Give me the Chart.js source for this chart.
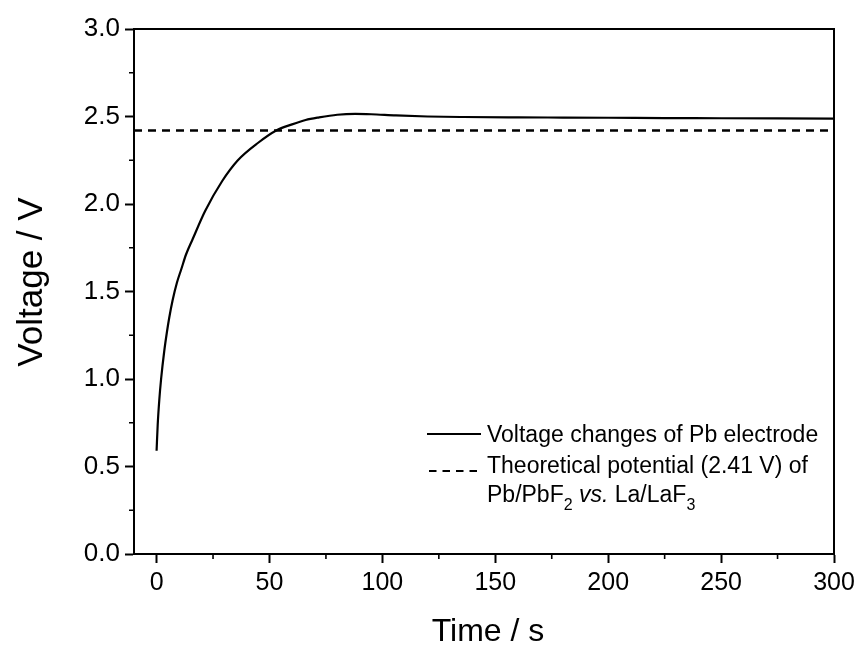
<!DOCTYPE html>
<html>
<head>
<meta charset="utf-8">
<script src="https://cdn.jsdelivr.net/npm/chart.js@4/dist/chart.umd.min.js"></script>
<style>
  html, body { margin: 0; padding: 0; background: #ffffff; }
  #wrap { width: 863px; height: 648px; position: relative; }
</style>
</head>
<body>
<div id="wrap"><canvas id="c" width="863" height="648"></canvas></div>
<script>
// ---- data ----
const timeS = [0, 0.5, 1.2, 2, 3.4, 4.6, 5.6, 7.1, 9, 11, 13, 16, 21.5, 29, 36, 45, 53, 60, 66, 72, 80, 88, 95, 106, 120, 136, 160, 180, 200, 225, 250, 275, 300];
const voltageV = [0.59, 0.74, 0.88, 1.0, 1.16, 1.27, 1.35, 1.45, 1.55, 1.63, 1.71, 1.80, 1.96, 2.13, 2.25, 2.35, 2.42, 2.455, 2.48, 2.495, 2.51, 2.515, 2.513, 2.506, 2.50, 2.497, 2.495, 2.494, 2.493, 2.491, 2.49, 2.489, 2.488];
const theoryTime = [-10, 300];
const theoryV = [2.42, 2.42];
const xTickValues = [0, 50, 100, 150, 200, 250, 300];
const yTickValues = [0.0, 0.5, 1.0, 1.5, 2.0, 2.5, 3.0];
const xMinor = [25, 75, 125, 175, 225, 275];
const yMinor = [0.25, 0.75, 1.25, 1.75, 2.25, 2.75];
const xTitle = 'Time / s';
const yTitle = 'Voltage / V';
const legendLine1 = 'Voltage changes of Pb electrode';
const legendLine2 = 'Theoretical potential (2.41 V) of';

const FONT = '"Liberation Sans", Arial, Helvetica, sans-serif';

const decorPlugin = {
  id: 'decor',
  afterDraw(chart) {
    const ctx = chart.ctx;
    const a = chart.chartArea;
    const xs = chart.scales.x, ys = chart.scales.y;
    ctx.save();
    ctx.strokeStyle = '#000';
    ctx.lineWidth = 2;
    // frame top & right
    ctx.beginPath();
    ctx.moveTo(a.left, a.top); ctx.lineTo(a.right, a.top); ctx.lineTo(a.right, a.bottom);
    ctx.stroke();
    // minor ticks
    ctx.lineWidth = 1.6;
    ctx.beginPath();
    xMinor.forEach(v => { const p = xs.getPixelForValue(v); ctx.moveTo(p, a.bottom); ctx.lineTo(p, a.bottom + 5); });
    yMinor.forEach(v => { const p = ys.getPixelForValue(v); ctx.moveTo(a.left - 5, p); ctx.lineTo(a.left, p); });
    ctx.stroke();

    // axis titles
    ctx.fillStyle = '#000';
    ctx.textBaseline = 'alphabetic';
    ctx.textAlign = 'center';
    ctx.font = '32px ' + FONT;
    ctx.fillText(xTitle, 488, 641);
    ctx.save();
    ctx.translate(42, 282);
    ctx.rotate(-Math.PI / 2);
    ctx.font = '35px ' + FONT;
    ctx.fillText(yTitle, 0, 0);
    ctx.restore();

    // legend
    ctx.textAlign = 'left';
    ctx.strokeStyle = '#000';
    ctx.lineWidth = 2.2;
    ctx.setLineDash([]);
    ctx.beginPath(); ctx.moveTo(427, 434); ctx.lineTo(481, 434); ctx.stroke();
    ctx.setLineDash([7.5, 6]);
    ctx.beginPath(); ctx.moveTo(429, 471); ctx.lineTo(481, 471); ctx.stroke();
    ctx.setLineDash([]);
    ctx.font = '23px ' + FONT;
    ctx.fillText(legendLine1, 487, 442);
    ctx.fillText(legendLine2, 487, 473);
    // third line with subscripts and italic
    const segs = [
      { t: 'Pb/PbF', f: '23px ' + FONT, dy: 0 },
      { t: '2', f: '16px ' + FONT, dy: 8 },
      { t: ' ', f: '23px ' + FONT, dy: 0 },
      { t: 'vs.', f: 'italic 23px ' + FONT, dy: 0 },
      { t: ' La/LaF', f: '23px ' + FONT, dy: 0 },
      { t: '3', f: '16px ' + FONT, dy: 8 }
    ];
    let x = 487;
    segs.forEach(s => {
      ctx.font = s.f;
      ctx.fillText(s.t, x, 502 + s.dy);
      x += ctx.measureText(s.t).width;
    });
    ctx.restore();
  }
};

new Chart(document.getElementById('c'), {
  type: 'line',
  data: {
    datasets: [
      {
        label: legendLine1,
        data: timeS.map((t, i) => ({ x: t, y: voltageV[i] })),
        borderColor: '#000',
        borderWidth: 2.2,
        pointRadius: 0,
        fill: false,
        cubicInterpolationMode: 'monotone'
      },
      {
        label: legendLine2,
        data: theoryTime.map((t, i) => ({ x: t, y: theoryV[i] })),
        borderColor: '#000',
        borderWidth: 2.4,
        borderDash: [8, 6],
        pointRadius: 0,
        fill: false
      }
    ]
  },
  options: {
    responsive: false,
    animation: false,
    devicePixelRatio: 1,
    layout: { padding: { top: 29, right: 29, left: 0, bottom: 0 } },
    plugins: { legend: { display: false }, tooltip: { enabled: false } },
    scales: {
      x: {
        type: 'linear',
        min: -10,
        max: 300,
        afterBuildTicks: s => { s.ticks = xTickValues.map(v => ({ value: v })); },
        ticks: {
          color: '#000',
          font: { size: 25, family: FONT },
          padding: 5,
          maxRotation: 0,
          callback: v => String(v)
        },
        grid: { drawOnChartArea: false, drawTicks: true, tickLength: 9, tickWidth: 2, tickColor: '#000' },
        border: { display: true, color: '#000', width: 2 },
        afterFit: s => { s.height = 94; }
      },
      y: {
        type: 'linear',
        min: 0,
        max: 3,
        afterBuildTicks: s => { s.ticks = yTickValues.map(v => ({ value: v })); },
        ticks: {
          color: '#000',
          font: { size: 26, family: FONT },
          padding: 5,
          callback: v => Number(v).toFixed(1)
        },
        grid: { drawOnChartArea: false, drawTicks: true, tickLength: 9, tickWidth: 2, tickColor: '#000' },
        border: { display: true, color: '#000', width: 2 },
        afterFit: s => { s.width = 134; }
      }
    }
  },
  plugins: [decorPlugin]
});
</script>
</body>
</html>
